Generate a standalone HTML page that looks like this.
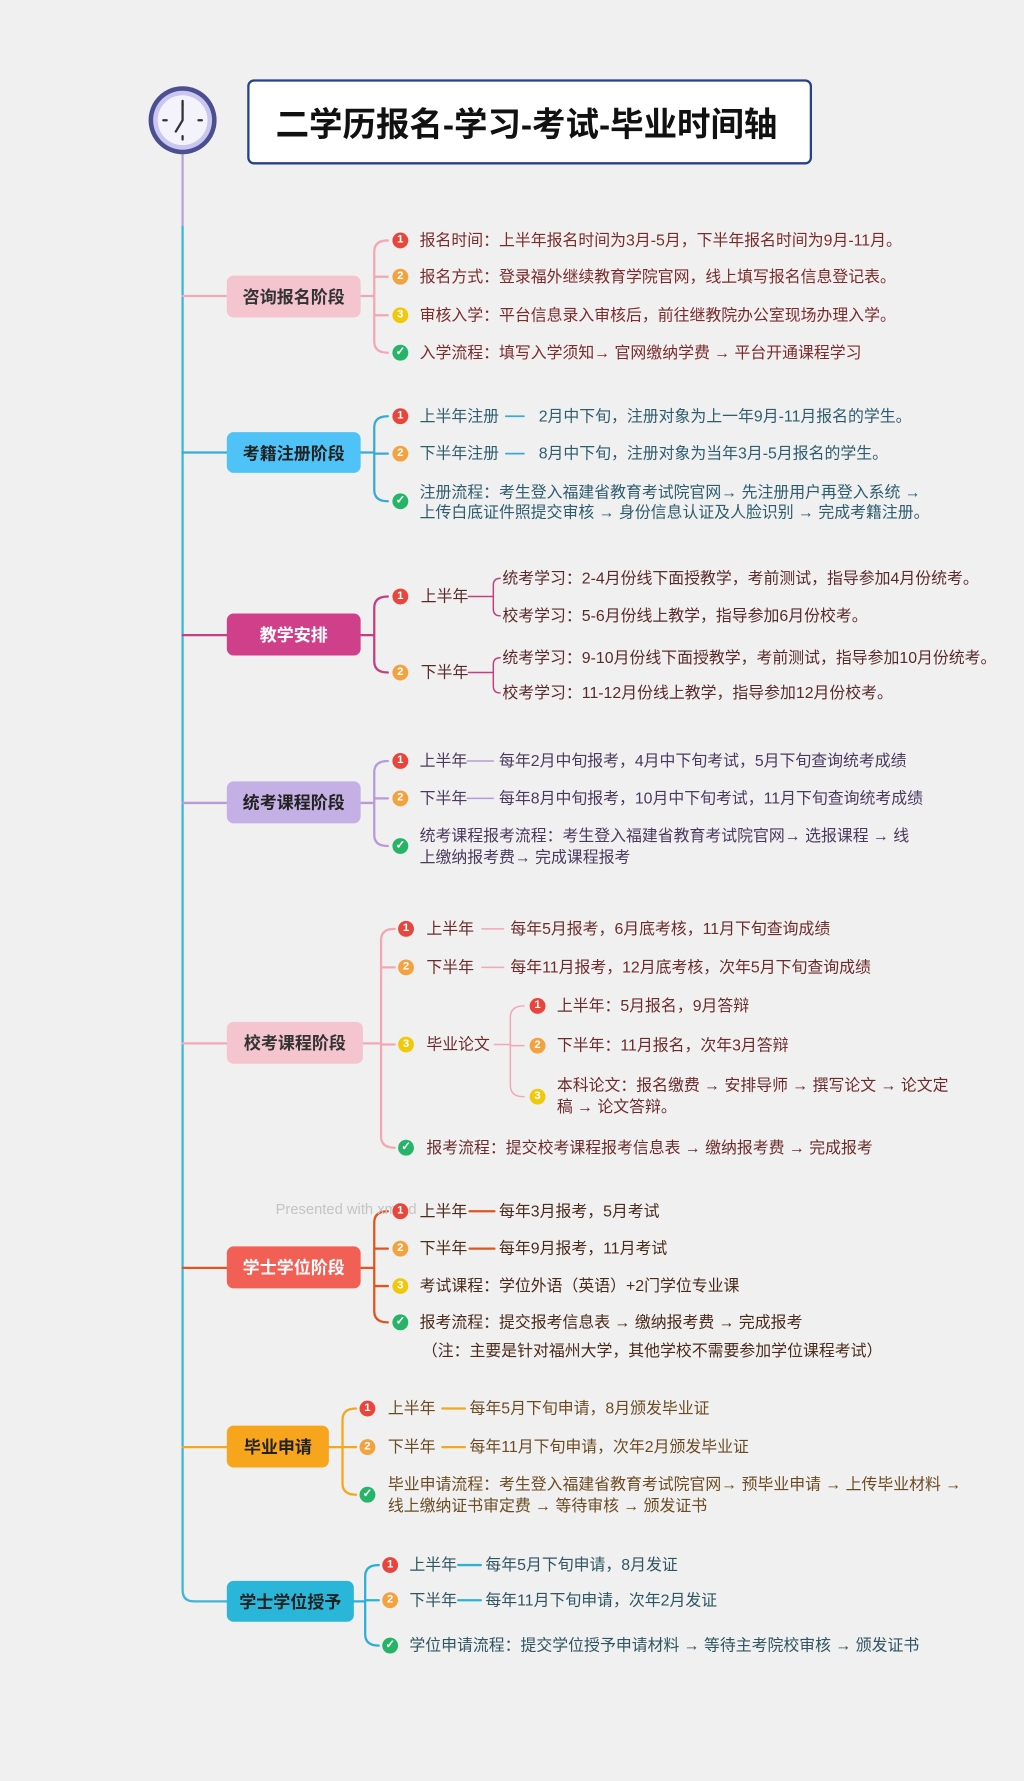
<!DOCTYPE html>
<html><head><meta charset="utf-8"><style>
html,body{margin:0;padding:0;background:#f0f0f0;}
body{width:1024px;height:1780px;overflow:hidden;position:relative;font-family:"Liberation Sans","Noto Sans CJK SC",sans-serif;}
#w{position:absolute;left:0;top:0;width:903px;height:1570px;transform:scale(1.1341);transform-origin:0 0;}
.t{position:absolute;font-size:14px;line-height:19px;white-space:nowrap;transform:translateY(-50%);}
.ic{position:absolute;width:14px;height:14px;border-radius:50%;color:#fff;font-size:10px;text-align:center;line-height:14px;font-weight:bold;margin-top:-7px;margin-left:-7px;font-family:"Liberation Sans",sans-serif;}
.r{background:#e8453c}.o{background:#f3a23f}.y{background:#f0c90c}.g{background:#25b468}
.n{position:absolute;border-radius:6px;font-weight:bold;font-size:15px;display:flex;align-items:center;justify-content:center;}
svg{position:absolute;left:0;top:0;}
</style></head><body><div id="w">
<svg width="903" height="1570" fill="none" stroke-linecap="round">
<path d="M161 136 V200" stroke="#b9a3d6" stroke-width="2"/>
<path d="M161 200 V1402 Q161 1412 171 1412 H200" stroke="#3fb5d9" stroke-width="2"/>
<g stroke="#f2a7b5" stroke-width="2"><path d="M161 261 H200 M318 261 H330 M342 212 Q330 212 330 222 V301 Q330 311 342 311 M330 244 H342 M330 278 H342"/></g>
<g stroke="#3aa9d6" stroke-width="2"><path d="M161 399 H200 M318 399 H330 M342 367 Q330 367 330 377 V432 Q330 442 342 442 M330 400 H342"/></g>
<path d="M446 367 H462 M446 400 H462" stroke="#3aa9d6" stroke-width="1.5"/>
<g stroke="#c2407f" stroke-width="2"><path d="M161 560 H200 M318 560 H330 M342 526 Q330 526 330 536 V583 Q330 593 342 593"/></g>
<g stroke="#c2407f" stroke-width="1.3"><path d="M413 526 H435 M441 510 Q435 510 435 516 V537 Q435 543 441 543 M413 593 H435 M441 580 Q435 580 435 586 V605 Q435 611 441 611"/></g>
<g stroke="#b89ad8" stroke-width="2"><path d="M161 708 H200 M318 708 H330 M342 671 Q330 671 330 681 V736 Q330 746 342 746 M330 704 H342"/></g>
<path d="M412 671 H435 M412 704 H435" stroke="#b89ad8" stroke-width="1.3"/>
<g stroke="#f2a7b5" stroke-width="2"><path d="M161 920 H200 M320 920 H336 M348 819 Q336 819 336 829 V1002 Q336 1012 348 1012 M336 853 H348 M336 921 H348"/></g>
<g stroke="#f2a7b5" stroke-width="1.3"><path d="M425 819 H444 M425 853 H444 M436 921 H450 M462 887 Q450 887 450 897 V957 Q450 967 462 967 M450 922 H462"/></g>
<g stroke="#e0541f" stroke-width="2"><path d="M161 1118 H200 M318 1118 H330 M342 1068 Q330 1068 330 1078 V1156 Q330 1166 342 1166 M330 1101 H342 M330 1134 H342"/><path d="M414 1068 H436 M414 1101 H436"/></g>
<g stroke="#f0a81e" stroke-width="2"><path d="M161 1276 H200 M290 1276 H302 M314 1242 Q302 1242 302 1252 V1308 Q302 1318 314 1318 M302 1276 H314"/><path d="M390 1242 H410 M390 1276 H410"/></g>
<g stroke="#2cb0d6" stroke-width="2"><path d="M312 1412 H322 M334 1380 Q322 1380 322 1390 V1441 Q322 1451 334 1451 M322 1411 H334"/><path d="M404 1380 H424 M404 1411 H424"/></g>
<circle cx="161" cy="106" r="30" fill="#4b4f8f"/>
<circle cx="161" cy="106" r="26" fill="#c9c6f0"/>
<circle cx="161" cy="106" r="22" fill="#f4f3fb"/>
<path d="M161 89 V92 M161 120 V123 M144 106 H147 M175 106 H178" stroke="#333" stroke-width="2"/>
<path d="M161 92 V106 L155 116" stroke="#333" stroke-width="2"/>
</svg>
<div style="position:absolute;left:218px;top:70px;width:494px;height:71px;border:2px solid #26408a;border-radius:6px;background:#fff;"></div>
<div style="position:absolute;left:218px;top:70px;width:498px;height:75px;display:flex;align-items:center;padding-left:25px;box-sizing:border-box;font-size:29.5px;font-weight:bold;color:#111;white-space:nowrap;">二学历报名-学习-考试-毕业时间轴</div>

<div class="n" style="left:200px;top:243px;width:118px;height:37px;background:#f5c5cf;color:#333">咨询报名阶段</div>
<div class="ic r" style="left:353px;top:212px">1</div><div class="t" style="left:370px;top:212px;color:#7b2b2b">报名时间：上半年报名时间为3月-5月，下半年报名时间为9月-11月。</div>
<div class="ic o" style="left:353px;top:244px">2</div><div class="t" style="left:370px;top:244px;color:#7b2b2b">报名方式：登录福外继续教育学院官网，线上填写报名信息登记表。</div>
<div class="ic y" style="left:353px;top:278px">3</div><div class="t" style="left:370px;top:278px;color:#7b2b2b">审核入学：平台信息录入审核后，前往继教院办公室现场办理入学。</div>
<div class="ic g" style="left:353px;top:311px">✓</div><div class="t" style="left:370px;top:311px;color:#7b2b2b">入学流程：填写入学须知→ 官网缴纳学费 → 平台开通课程学习</div>

<div class="n" style="left:200px;top:381px;width:118px;height:36px;background:#4fc3f7;color:#222">考籍注册阶段</div>
<div class="ic r" style="left:353px;top:367px">1</div><div class="t" style="left:370px;top:367px;color:#2e5d6e">上半年注册</div><div class="t" style="left:475px;top:367px;color:#2e5d6e">2月中下旬，注册对象为上一年9月-11月报名的学生。</div>
<div class="ic o" style="left:353px;top:400px">2</div><div class="t" style="left:370px;top:400px;color:#2e5d6e">下半年注册</div><div class="t" style="left:475px;top:400px;color:#2e5d6e">8月中下旬，注册对象为当年3月-5月报名的学生。</div>
<div class="ic g" style="left:353px;top:442px">✓</div><div class="t" style="left:370px;top:434px;color:#2e5d6e">注册流程：考生登入福建省教育考试院官网→ 先注册用户再登入系统 →</div><div class="t" style="left:370px;top:452px;color:#2e5d6e">上传白底证件照提交审核 → 身份信息认证及人脸识别 → 完成考籍注册。</div>

<div class="n" style="left:200px;top:541px;width:118px;height:37px;background:#d0408a;color:#fff">教学安排</div>
<div class="ic r" style="left:353px;top:526px">1</div><div class="t" style="left:371px;top:526px;color:#5a2a2a">上半年</div>
<div class="t" style="left:443px;top:510px;color:#5a2a2a">统考学习：2-4月份线下面授教学，考前测试，指导参加4月份统考。</div>
<div class="t" style="left:443px;top:543px;color:#5a2a2a">校考学习：5-6月份线上教学，指导参加6月份校考。</div>
<div class="ic o" style="left:353px;top:593px">2</div><div class="t" style="left:371px;top:593px;color:#5a2a2a">下半年</div>
<div class="t" style="left:443px;top:580px;color:#5a2a2a">统考学习：9-10月份线下面授教学，考前测试，指导参加10月份统考。</div>
<div class="t" style="left:443px;top:611px;color:#5a2a2a">校考学习：11-12月份线上教学，指导参加12月份校考。</div>

<div class="n" style="left:200px;top:689px;width:118px;height:37px;background:#c5b0e6;color:#222">统考课程阶段</div>
<div class="ic r" style="left:353px;top:671px">1</div><div class="t" style="left:370px;top:671px;color:#4a3a5e">上半年</div><div class="t" style="left:440px;top:671px;color:#4a3a5e">每年2月中旬报考，4月中下旬考试，5月下旬查询统考成绩</div>
<div class="ic o" style="left:353px;top:704px">2</div><div class="t" style="left:370px;top:704px;color:#4a3a5e">下半年</div><div class="t" style="left:440px;top:704px;color:#4a3a5e">每年8月中旬报考，10月中下旬考试，11月下旬查询统考成绩</div>
<div class="ic g" style="left:353px;top:746px">✓</div><div class="t" style="left:370px;top:737px;color:#4a3a5e">统考课程报考流程：考生登入福建省教育考试院官网→ 选报课程 → 线</div><div class="t" style="left:370px;top:756px;color:#4a3a5e">上缴纳报考费→ 完成课程报考</div>

<div class="n" style="left:200px;top:901px;width:120px;height:37px;background:#f5c5cf;color:#333">校考课程阶段</div>
<div class="ic r" style="left:358px;top:819px">1</div><div class="t" style="left:376px;top:819px;color:#6b2b2b">上半年</div><div class="t" style="left:450px;top:819px;color:#6b2b2b">每年5月报考，6月底考核，11月下旬查询成绩</div>
<div class="ic o" style="left:358px;top:853px">2</div><div class="t" style="left:376px;top:853px;color:#6b2b2b">下半年</div><div class="t" style="left:450px;top:853px;color:#6b2b2b">每年11月报考，12月底考核，次年5月下旬查询成绩</div>
<div class="ic y" style="left:358px;top:921px">3</div><div class="t" style="left:376px;top:921px;color:#6b2b2b">毕业论文</div>
<div class="ic r" style="left:474px;top:887px">1</div><div class="t" style="left:491px;top:887px;color:#6b2b2b">上半年：5月报名，9月答辩</div>
<div class="ic o" style="left:474px;top:922px">2</div><div class="t" style="left:491px;top:922px;color:#6b2b2b">下半年：11月报名，次年3月答辩</div>
<div class="ic y" style="left:474px;top:967px">3</div><div class="t" style="left:491px;top:957px;color:#6b2b2b">本科论文：报名缴费 → 安排导师 → 撰写论文 → 论文定</div><div class="t" style="left:491px;top:976px;color:#6b2b2b">稿 → 论文答辩。</div>
<div class="ic g" style="left:358px;top:1012px">✓</div><div class="t" style="left:376px;top:1012px;color:#6b2b2b">报考流程：提交校考课程报考信息表 →  缴纳报考费 → 完成报考</div>

<div class="t" style="left:243px;top:1066px;color:#c4c4c4;font-size:13px">Presented with xmind</div>

<div class="n" style="left:200px;top:1099px;width:118px;height:37px;background:#f25f55;color:#fff">学士学位阶段</div>
<div class="ic r" style="left:353px;top:1068px">1</div><div class="t" style="left:370px;top:1068px;color:#4a2a1a">上半年</div><div class="t" style="left:440px;top:1068px;color:#4a2a1a">每年3月报考，5月考试</div>
<div class="ic o" style="left:353px;top:1101px">2</div><div class="t" style="left:370px;top:1101px;color:#4a2a1a">下半年</div><div class="t" style="left:440px;top:1101px;color:#4a2a1a">每年9月报考，11月考试</div>
<div class="ic y" style="left:353px;top:1134px">3</div><div class="t" style="left:370px;top:1134px;color:#4a2a1a">考试课程：学位外语（英语）+2门学位专业课</div>
<div class="ic g" style="left:353px;top:1166px">✓</div><div class="t" style="left:370px;top:1166px;color:#4a2a1a">报考流程：提交报考信息表 →  缴纳报考费 → 完成报考</div>
<div class="t" style="left:372px;top:1191px;color:#4a2a1a">（注：主要是针对福州大学，其他学校不需要参加学位课程考试）</div>

<div class="n" style="left:200px;top:1257px;width:90px;height:37px;background:#f7a51c;color:#222">毕业申请</div>
<div class="ic r" style="left:324px;top:1242px">1</div><div class="t" style="left:342px;top:1242px;color:#6b4c22">上半年</div><div class="t" style="left:414px;top:1242px;color:#6b4c22">每年5月下旬申请，8月颁发毕业证</div>
<div class="ic o" style="left:324px;top:1276px">2</div><div class="t" style="left:342px;top:1276px;color:#6b4c22">下半年</div><div class="t" style="left:414px;top:1276px;color:#6b4c22">每年11月下旬申请，次年2月颁发毕业证</div>
<div class="ic g" style="left:324px;top:1318px">✓</div><div class="t" style="left:342px;top:1309px;color:#6b4c22">毕业申请流程：考生登入福建省教育考试院官网→  预毕业申请 → 上传毕业材料 →</div><div class="t" style="left:342px;top:1328px;color:#6b4c22">线上缴纳证书审定费 → 等待审核 → 颁发证书</div>

<div class="n" style="left:200px;top:1394px;width:112px;height:36px;background:#29b6d8;color:#222">学士学位授予</div>
<div class="ic r" style="left:344px;top:1380px">1</div><div class="t" style="left:361px;top:1380px;color:#2e5560">上半年</div><div class="t" style="left:428px;top:1380px;color:#2e5560">每年5月下旬申请，8月发证</div>
<div class="ic o" style="left:344px;top:1411px">2</div><div class="t" style="left:361px;top:1411px;color:#2e5560">下半年</div><div class="t" style="left:428px;top:1411px;color:#2e5560">每年11月下旬申请，次年2月发证</div>
<div class="ic g" style="left:344px;top:1451px">✓</div><div class="t" style="left:361px;top:1451px;color:#2e5560">学位申请流程：提交学位授予申请材料 → 等待主考院校审核  → 颁发证书</div>
</div></body></html>
